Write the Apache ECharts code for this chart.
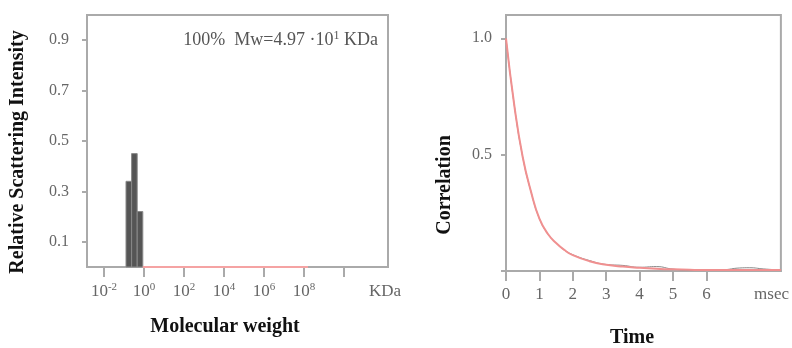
<!DOCTYPE html>
<html>
<head>
<meta charset="utf-8">
<script src="https://cdn.jsdelivr.net/npm/echarts@6/dist/echarts.min.js"></script>
<style>
html, body { margin: 0; padding: 0; background: #fff; }
#main { width: 792px; height: 348px; }
</style>
</head>
<body>
<div id="main"></div>
<script>
// left panel: molecular weight distribution, x in log10(KDa)
const binEdges = [-0.9, -0.62, -0.34, -0.06]
const binIntensity = [0.34, 0.45, 0.22]
const baseLineX = [-0.06, 8.2]
const baseLineY = [0, 0]
const mwTicks = [-2, 0, 2, 4, 6, 8, 10]
const mwLabels = [-2, 0, 2, 4, 6, 8]
const intensityTicks = [0.1, 0.3, 0.5, 0.7, 0.9]

// right panel: correlation function
const fitTime = [0, 0.25, 0.5, 0.75, 1, 1.25, 1.5, 1.75, 2, 2.5, 3, 3.5, 4, 4.5, 5, 5.5, 6, 6.5, 7, 7.5, 8.23]
const fitValue = [1.0, 0.71, 0.49, 0.34, 0.225, 0.16, 0.12, 0.09, 0.068, 0.042, 0.027, 0.019, 0.014, 0.01, 0.007, 0.005, 0.004, 0.004, 0.004, 0.004, 0.004]
const measTime = [0, 0.25, 0.5, 0.75, 1, 1.25, 1.5, 1.75, 2, 2.5, 3, 3.5, 4, 4.5, 5, 5.5, 6, 6.5, 7, 7.3, 7.7, 8.23]
const measValue = [1.0, 0.71, 0.49, 0.34, 0.225, 0.16, 0.12, 0.09, 0.07, 0.045, 0.028, 0.024, 0.016, 0.019, 0.008, 0.004, 0.003, 0.005, 0.013, 0.014, 0.009, 0.004]
const timeTicks = [0, 1, 2, 3, 4, 5, 6]
const corrTicks = [0, 0.5, 1.0]
const corrLabels = [0.5, 1.0]

const KDA_POS = 12.05
const MSEC_POS = 7.95

const serif = 'Liberation Serif'
const gray = '#666'
const boxColor = '#aaa'

function rich() {
  return {
    b: { fontFamily: serif, fontSize: 17, color: gray, lineHeight: 20 },
    s: { fontFamily: serif, fontSize: 11, color: gray, lineHeight: 11, verticalAlign: 'top' }
  }
}

const chart = echarts.init(document.getElementById('main'))

const option = {
  animation: false,
  grid: [{
    left: 87, right: 404, top: 15, bottom: 81,
    show: true, borderColor: boxColor, borderWidth: 2
  }, {
    left: 506, right: 10, top: 15, bottom: 77,
    show: true, borderColor: boxColor, borderWidth: 2
  }],
  xAxis: [{
    type: 'value',
    gridIndex: 0,
    min: -2.85,
    max: 12.2,
    splitLine: { show: false },
    axisLine: { onZero: false, lineStyle: { color: boxColor, width: 2 } },
    axisTick: { customValues: mwTicks, length: 10, lineStyle: { color: boxColor, width: 2 } },
    axisLabel: {
      customValues: mwLabels.concat([KDA_POS]),
      margin: 15,
      formatter(v) {
        if (v === KDA_POS) return '{b|KDa}'
        return '{b|10}{s|' + v + '}'
      },
      rich: rich()
    }
  }, {
    type: 'value',
    gridIndex: 1,
    min: 0,
    max: 8.23,
    splitLine: { show: false },
    axisLine: { onZero: false, lineStyle: { color: boxColor, width: 2 } },
    axisTick: { customValues: timeTicks, length: 10, lineStyle: { color: boxColor, width: 2 } },
    axisLabel: {
      customValues: timeTicks.concat([MSEC_POS]),
      margin: 15,
      formatter(v) {
        return v === MSEC_POS ? 'msec' : String(v)
      },
      fontFamily: serif,
      fontSize: 17,
      color: gray
    }
  }],
  yAxis: [{
    type: 'value',
    gridIndex: 0,
    min: 0,
    max: 1.0,
    splitLine: { show: false },
    axisLine: { show: true, onZero: false, lineStyle: { color: boxColor, width: 2 } },
    axisTick: { customValues: intensityTicks, length: 5, lineStyle: { color: boxColor, width: 2 } },
    axisLabel: {
      customValues: intensityTicks,
      margin: 18,
      formatter(v) { return v.toFixed(1) },
      fontFamily: serif,
      fontSize: 16,
      color: gray
    }
  }, {
    type: 'value',
    gridIndex: 1,
    min: 0,
    max: 1.1,
    splitLine: { show: false },
    axisLine: { show: true, onZero: false, lineStyle: { color: boxColor, width: 2 } },
    axisTick: { customValues: corrTicks, length: 5, lineStyle: { color: boxColor, width: 2 } },
    axisLabel: {
      customValues: corrLabels,
      margin: 14,
      formatter(v) { return v.toFixed(1) },
      fontFamily: serif,
      fontSize: 16,
      color: gray
    }
  }],
  graphic: [{
    type: 'text',
    x: 18, y: 152,
    rotation: Math.PI / 2,
    style: {
      text: 'Relative Scattering Intensity',
      font: 'bold 20px "Liberation Serif"',
      fill: '#111',
      textAlign: 'center',
      textVerticalAlign: 'middle'
    }
  }, {
    type: 'text',
    x: 225, y: 327,
    style: {
      text: 'Molecular weight',
      font: 'bold 20px "Liberation Serif"',
      fill: '#111',
      textAlign: 'center',
      textVerticalAlign: 'middle'
    }
  }, {
    type: 'text',
    x: 445, y: 185,
    rotation: Math.PI / 2,
    style: {
      text: 'Correlation',
      font: 'bold 20px "Liberation Serif"',
      fill: '#111',
      textAlign: 'center',
      textVerticalAlign: 'middle'
    }
  }, {
    type: 'text',
    x: 632, y: 338,
    style: {
      text: 'Time',
      font: 'bold 20px "Liberation Serif"',
      fill: '#111',
      textAlign: 'center',
      textVerticalAlign: 'middle'
    }
  }, {
    type: 'text',
    x: 378, y: 40,
    style: {
      text: '{b|100%  Mw=4.97 ·10}{s|1}{b| KDa}',
      textAlign: 'right',
      textVerticalAlign: 'middle',
      rich: {
        b: { fontFamily: serif, fontSize: 18, fill: '#555', lineHeight: 21 },
        s: { fontFamily: serif, fontSize: 12, fill: '#555', lineHeight: 12, verticalAlign: 'top' }
      }
    }
  }],
  series: [{
    type: 'custom',
    xAxisIndex: 0,
    yAxisIndex: 0,
    data: binIntensity.map((v, i) => [binEdges[i], binEdges[i + 1], v]),
    renderItem(params, api) {
      const p0 = api.coord([api.value(0), api.value(2)])
      const p1 = api.coord([api.value(1), 0])
      return {
        type: 'rect',
        shape: { x: p0[0], y: p0[1], width: p1[0] - p0[0], height: p1[1] - p0[1] },
        style: { fill: '#555', stroke: '#888', lineWidth: 1 }
      }
    },
    z: 3
  }, {
    type: 'line',
    xAxisIndex: 0,
    yAxisIndex: 0,
    data: baseLineX.map((x, i) => [x, baseLineY[i]]),
    symbol: 'none',
    lineStyle: { color: '#f5a3a3', width: 2 },
    z: 4
  }, {
    type: 'line',
    xAxisIndex: 1,
    yAxisIndex: 1,
    data: measTime.map((t, i) => [t, measValue[i]]),
    smooth: true,
    symbol: 'none',
    lineStyle: { color: '#888', width: 1 },
    z: 3
  }, {
    type: 'line',
    xAxisIndex: 1,
    yAxisIndex: 1,
    data: fitTime.map((t, i) => [t, fitValue[i]]),
    smooth: true,
    symbol: 'none',
    lineStyle: { color: '#f09090', width: 2 },
    z: 4
  }]
}

chart.setOption(option)
</script>
</body>
</html>
